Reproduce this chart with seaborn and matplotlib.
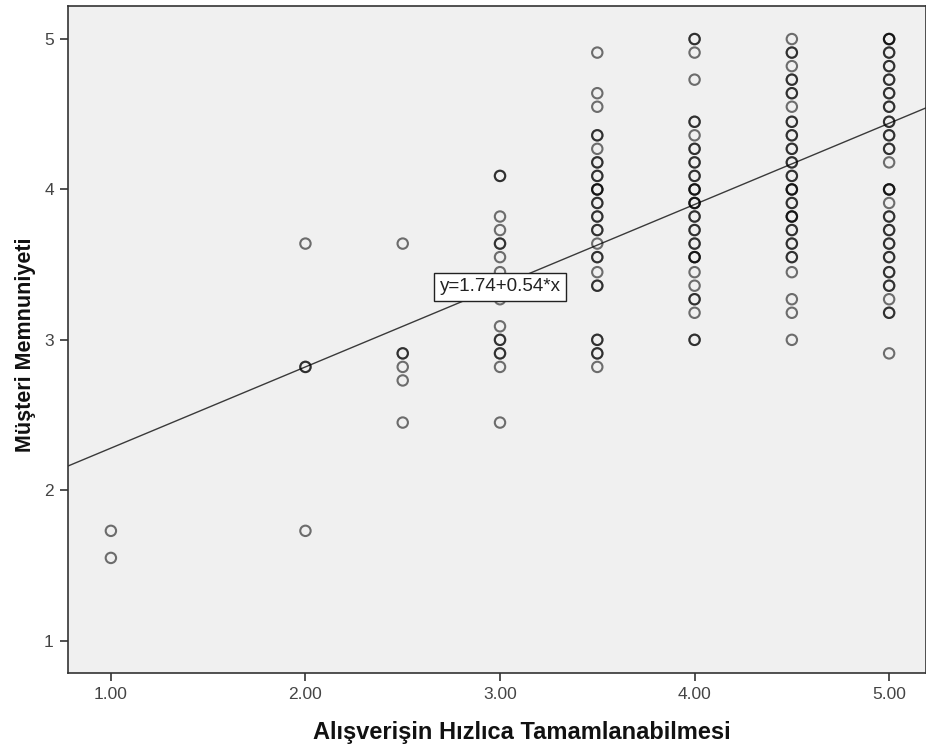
import numpy as np
import pandas as pd
import matplotlib
matplotlib.use("Agg")
import matplotlib.pyplot as plt
import seaborn as sns

# Scatter values per x column: satisfaction score and how many cases sit on that spot
x_10_y = [1.73, 1.55]
x_10_n = [1, 1]
x_20_y = [3.64, 2.82, 1.73]
x_20_n = [1, 2, 1]
x_25_y = [3.64, 2.91, 2.82, 2.73, 2.45]
x_25_n = [1, 2, 1, 1, 1]
x_30_y = [4.09, 3.82, 3.73, 3.64, 3.55, 3.45, 3.36, 3.27, 3.09, 3.00, 2.91, 2.82, 2.45]
x_30_n = [2, 1, 1, 2, 1, 1, 1, 1, 1, 2, 2, 1, 1]
x_35_y = [4.91, 4.64, 4.55, 4.36, 4.27, 4.18, 4.09, 4.00, 3.91, 3.82, 3.73, 3.64,
          3.55, 3.45, 3.36, 3.00, 2.91, 2.82]
x_35_n = [1, 1, 1, 2, 1, 2, 2, 3, 2, 2, 2, 1, 2, 1, 2, 2, 2, 1]
x_40_y = [5.00, 4.91, 4.73, 4.45, 4.36, 4.27, 4.18, 4.09, 4.00, 3.91, 3.82, 3.73,
          3.64, 3.55, 3.45, 3.36, 3.27, 3.18, 3.00]
x_40_n = [2, 1, 1, 2, 1, 2, 2, 2, 3, 3, 2, 2, 2, 3, 1, 1, 2, 1, 2]
x_45_y = [5.00, 4.91, 4.82, 4.73, 4.64, 4.55, 4.45, 4.36, 4.27, 4.18, 4.09, 4.00,
          3.91, 3.82, 3.73, 3.64, 3.55, 3.45, 3.27, 3.18, 3.00]
x_45_n = [1, 2, 1, 2, 2, 1, 2, 2, 2, 2, 2, 3, 2, 3, 2, 2, 2, 1, 1, 1, 1]
x_50_y = [5.00, 4.91, 4.82, 4.73, 4.64, 4.55, 4.45, 4.36, 4.27, 4.18, 4.00, 3.91,
          3.82, 3.73, 3.64, 3.55, 3.45, 3.36, 3.27, 3.18, 2.91]
x_50_n = [3, 2, 2, 2, 2, 2, 2, 2, 2, 1, 3, 1, 2, 2, 2, 2, 2, 2, 1, 2, 1]

# Fit line shown in the chart
intercept = 1.74
slope = 0.54
fit_label = "y=1.74+0.54*x"

x_ticks = [1.0, 2.0, 3.0, 4.0, 5.0]
x_tick_labels = ["1.00", "2.00", "3.00", "4.00", "5.00"]
y_ticks = [1, 2, 3, 4, 5]

x_title = "Alışverişin Hızlıca Tamamlanabilmesi"
y_title = "Müşteri Memnuniyeti"

columns = [
    (1.0, x_10_y, x_10_n), (2.0, x_20_y, x_20_n), (2.5, x_25_y, x_25_n),
    (3.0, x_30_y, x_30_n), (3.5, x_35_y, x_35_n), (4.0, x_40_y, x_40_n),
    (4.5, x_45_y, x_45_n), (5.0, x_50_y, x_50_n),
]
rows = []
for xv, ys, ns in columns:
    for yv, n in zip(ys, ns):
        rows += [(xv, yv)] * n
df = pd.DataFrame(rows, columns=["x", "y"])

sns.set_style("ticks")
plt.rcParams["font.family"] = ["Liberation Sans", "DejaVu Sans"]

fig = plt.figure(figsize=(9.26, 7.46), dpi=100)
ax = fig.add_axes([0.0731, 0.0975, 0.927, 0.8945])
ax.set_facecolor("#f0f0f0")

sns.scatterplot(data=df, x="x", y="y", ax=ax, marker="o", s=56,
                linewidth=1.5, alpha=0.55, legend=False, zorder=3)
pts = ax.collections[0]
pts.set_facecolor("none")
pts.set_edgecolor((0, 0, 0, 0.56))

ax.axline((0, intercept), slope=slope, color="#3a3a3a", lw=1.0, zorder=2)

ax.text(3.0, 3.353, fit_label, ha="center", va="center", fontsize=13.5,
        color="#222222",
        bbox=dict(boxstyle="square,pad=0.28", fc="white", ec="#222222", lw=1.0),
        zorder=5)

ax.set_xlim(0.778, 5.19)
ax.set_ylim(0.783, 5.22)
ax.set_xticks(x_ticks)
ax.set_xticklabels(x_tick_labels)
ax.set_yticks(y_ticks)
ax.tick_params(axis="both", direction="out", length=6, width=1.2,
               color="#333333", labelsize=12.5, labelcolor="#444444", pad=4)

for side in ["left", "bottom", "top", "right"]:
    ax.spines[side].set_visible(True)
    ax.spines[side].set_color("#333333")
    ax.spines[side].set_linewidth(1.2)

ax.set_xlabel(x_title, fontsize=17, fontweight="bold", color="#111111")
ax.set_ylabel(y_title, fontsize=15.5, fontweight="bold", color="#111111")
# SPSS puts the x title a bit right of the axes centre
ax.xaxis.set_label_coords(0.529, -0.072)
ax.yaxis.set_label_coords(-0.037, 0.493)

fig.savefig("out.png", dpi=100, facecolor="white")
